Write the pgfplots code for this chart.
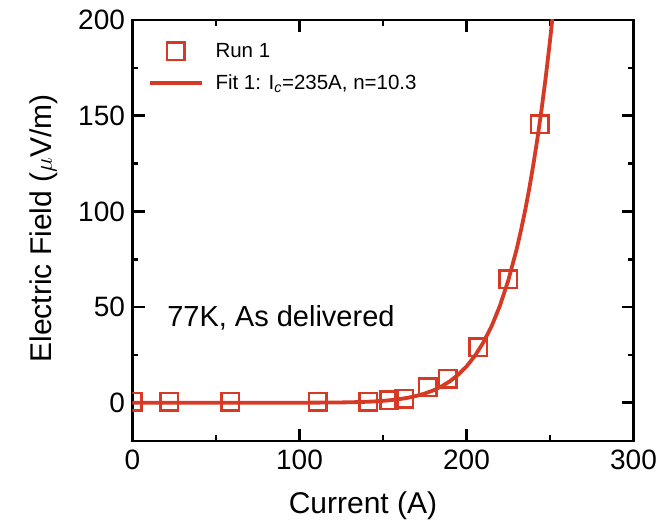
\documentclass[border=0pt]{standalone}
\usepackage{pgfplots}
\pgfplotsset{compat=1.18}
\usepackage{fontspec}
\setmainfont{Liberation Sans}
\definecolor{runred}{RGB}{214,58,36}
\begin{document}
\begin{tikzpicture}
\path[use as bounding box] (-132.5pt,-86.5pt) rectangle (531.5pt,441pt);
\begin{axis}[
  at={(0pt,0pt)}, anchor=south west,
  scale only axis, width=501pt, height=421pt,
  xmin=0, xmax=300, ymin=-20, ymax=200,
  clip marker paths=true,
  axis line style={line width=2.8pt, black},
  tick style={line width=2.6pt, black},
  tick align=inside,
  major tick length=12pt, minor tick length=6pt,
  xtick={0,100,200,300}, minor x tick num=1,
  ytick={0,50,100,150,200}, minor y tick num=1,
  /pgf/number format/assume math mode=true,
  ticklabel style={font=\fontsize{28}{34}\selectfont},
  xticklabel style={yshift=-5pt},
  yticklabel style={xshift=-4pt},
  xlabel={Current (A)},
  ylabel={Electric Field ($\mu$V/m)},
  label style={font=\fontsize{30}{36}\selectfont},
  xlabel style={at={(axis description cs:0.46,-0.172)}, anchor=base},
  ylabel style={at={(axis description cs:-0.1607,0.505)}, anchor=base},
  legend image code/.code={\draw[mark repeat=2,mark phase=2,#1] plot coordinates {(0pt,0pt) (26pt,0pt) (52pt,0pt)};},
  legend cell align=left,
  legend style={draw=none, fill=none, at={(axis description cs:0.03,0.95)}, anchor=north west,
    font=\fontsize{20.5}{24}\selectfont, inner sep=0pt, row sep=12pt,
    /tikz/every odd column/.append style={column sep=10pt}},
]
\addplot[only marks, runred, mark=square, mark size=8.75pt, mark options={line width=2.5pt, runred}]
  coordinates {(0.3,0.4) (22,0.4) (58.4,0.4) (111,0.4) (141.3,0.5) (153.6,1.2) (162.6,2.2) (176.9,8) (188.9,12.5) (206.9,29) (224.9,64.5) (244,145.5)};
\addlegendentry{Run 1}
\addplot[runred, line width=3.8pt, no marks]
  coordinates {(0,0) (50,0.0) (100,0.015) (120,0.099) (130,0.224) (140,0.482) (145,0.69) (150,0.98) (155,1.38) (160,1.91) (165,2.62) (170,3.56) (175,4.80) (180,6.42) (185,8.51) (190,11.20) (195,14.62) (200,18.96) (205,24.47) (210,31.36) (215,39.94) (220,50.63) (225,63.88) (230,80.08) (232.5,89.62) (235,100) (237.5,111.5) (240,124.3) (242.5,138.2) (245,153.6) (247.5,170.5) (250,189.2) (252,205.3)};
\addlegendentry{Fit 1: I\textsubscript{\textit{c}}=235A, n=10.3}
\node[anchor=base west, inner sep=0pt, font=\fontsize{29}{35}\selectfont] at (axis cs:20.7,39.6) {77K, As delivered};
\end{axis}
\end{tikzpicture}
\end{document}
